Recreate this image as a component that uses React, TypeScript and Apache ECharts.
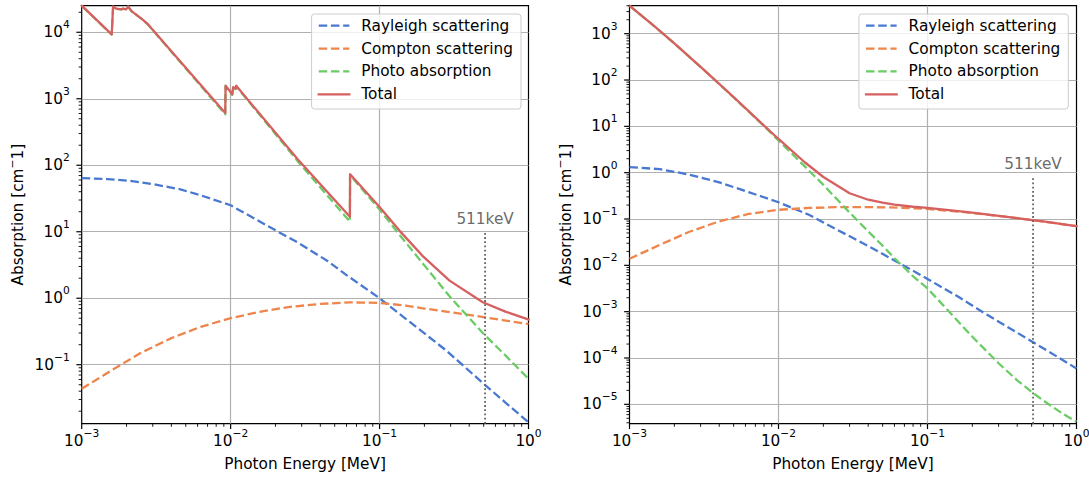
import React, { useEffect, useRef } from 'react';
import * as echarts from 'echarts';

type Pt = [number, number];

// ---------- labels & styling constants ----------
const SERIES_NAMES = ['Rayleigh scattering', 'Compton scattering', 'Photo absorption', 'Total'];
const SERIES_COLORS = ['#4878d0', '#ee854a', '#6acc64', '#d65f5f'];
const X_LABEL = 'Photon Energy [MeV]';
const MARKER_LABEL = '511keV';
const MARKER_ENERGY = 0.511;

const X_RANGE: Pt = [1e-3, 1];
const LEFT_Y_RANGE: Pt = [0.01297, 25100];
const RIGHT_Y_RANGE: Pt = [3.82e-6, 4018];
const LEFT_MARKER_TOP = 10;
const RIGHT_MARKER_TOP = 0.82;

// ---------- left panel data (energy MeV, absorption cm^-1) ----------
const leftRayleigh: Pt[] = [
  [1e-3, 64], [1.5e-3, 62], [2.1e-3, 58.3], [3e-3, 52], [4.6e-3, 43.4], [6.5e-3, 34.5],
  [1e-2, 25], [1.5e-2, 15.1], [2.14e-2, 9.66], [2.84e-2, 6.84], [4.5e-2, 3.6], [6e-2, 2.23],
  [0.1, 1.0], [0.15, 0.49], [0.28, 0.164], [0.5, 0.0517], [0.7, 0.027], [1, 0.0136],
];
const leftCompton: Pt[] = [
  [1e-3, 0.0435], [1.6e-3, 0.0832], [2.5e-3, 0.151], [4e-3, 0.251], [6.3e-3, 0.372],
  [1e-2, 0.501], [1.6e-2, 0.631], [2.5e-2, 0.741], [4e-2, 0.822], [6.3e-2, 0.865],
  [0.1, 0.852], [0.15, 0.775], [0.2, 0.70], [0.28, 0.63], [0.5, 0.52], [0.7, 0.462], [1, 0.41],
];
const leftPhoto: Pt[] = [
  [1e-3, 25036], [1.59e-3, 9239], [1.625e-3, 24240], [1.71e-3, 22540], [1.84e-3, 22040],
  [1.89e-3, 22640], [1.99e-3, 22040], [2.05e-3, 24340], [2.16e-3, 20740], [2.39e-3, 17445],
  [2.52e-3, 15945], [2.79e-3, 13050], [9.2e-3, 584], [9.25e-3, 1550], [1.025e-2, 1145],
  [1.04e-2, 1475], [1.08e-2, 1396], [1.09e-2, 1546], [2.82e-2, 115.3], [6.32e-2, 14.2],
  [6.34e-2, 70.9], [0.1, 21.65], [0.136, 9.0], [0.195, 3.34], [0.295, 1.07], [0.493, 0.30],
  [0.7, 0.138], [1, 0.0615],
];
const leftTotal: Pt[] = [
  [1e-3, 25100], [1.59e-3, 9300], [1.625e-3, 24300], [1.71e-3, 22600], [1.84e-3, 22100],
  [1.89e-3, 22700], [1.99e-3, 22100], [2.05e-3, 24400], [2.16e-3, 20800], [2.39e-3, 17500],
  [2.52e-3, 16000], [2.79e-3, 13100], [9.2e-3, 611], [9.25e-3, 1577], [1.025e-2, 1170],
  [1.04e-2, 1500], [1.08e-2, 1420], [1.09e-2, 1570], [2.82e-2, 123], [6.32e-2, 16.8],
  [6.34e-2, 73.4], [0.1, 23.5], [0.136, 10.4], [0.195, 4.3], [0.295, 1.84], [0.493, 0.87],
  [0.7, 0.63], [1, 0.48],
];

// ---------- right panel data ----------
const rightRayleigh: Pt[] = [
  [1e-3, 1.32], [1.6e-3, 1.19], [2.5e-3, 0.914], [4e-3, 0.618], [6.3e-3, 0.381], [1e-2, 0.2296],
  [1.6e-2, 0.1233], [2.5e-2, 0.0577], [4e-2, 0.0261], [6.3e-2, 0.01167], [0.1, 5.09e-3],
  [0.16, 2.12e-3], [0.25, 8.65e-4], [0.4, 3.52e-4], [0.63, 1.47e-4], [1, 5.95e-5],
];
const rightCompton: Pt[] = [
  [1e-3, 0.0139], [1.6e-3, 0.0277], [2.5e-3, 0.0524], [4e-3, 0.0889], [6.3e-3, 0.1285],
  [1e-2, 0.158], [1.6e-2, 0.1734], [2.5e-2, 0.1799], [4e-2, 0.1807], [6.3e-2, 0.1766],
  [0.1, 0.165], [0.16, 0.145], [0.25, 0.1245], [0.4, 0.1045], [0.63, 0.0861], [1, 0.070],
];
const rightPhoto: Pt[] = [
  [1e-3, 4016], [1.5e-3, 1370], [2e-3, 614], [3e-3, 192], [4e-3, 82], [5e-3, 42], [6e-3, 24.2],
  [8e-3, 10.1], [1e-2, 4.95], [1.5e-2, 1.37], [2e-2, 0.545], [3e-2, 0.138], [4e-2, 0.054],
  [5e-2, 0.0265], [6e-2, 0.0143], [8e-2, 0.0058], [0.1, 3.18e-3], [0.15, 7.8e-4], [0.2, 2.87e-4],
  [0.3, 7.7e-5], [0.4, 3.3e-5], [0.5, 1.86e-5], [0.6, 1.2e-5], [0.8, 6.4e-6], [1, 4.2e-6],
];
const rightTotal: Pt[] = [
  [1e-3, 4018], [1.5e-3, 1371], [2e-3, 615], [3e-3, 193], [4e-3, 82.7], [5e-3, 42.7],
  [6e-3, 24.8], [8e-3, 10.4], [1e-2, 5.34], [1.5e-2, 1.68], [2e-2, 0.807], [3e-2, 0.360],
  [4e-2, 0.261], [5e-2, 0.2245], [6e-2, 0.204], [8e-2, 0.184], [0.1, 0.173], [0.15, 0.151],
  [0.2, 0.137], [0.3, 0.1172], [0.4, 0.105], [0.5, 0.0951], [0.6, 0.0887], [0.8, 0.0775], [1, 0.0701],
];

const FONT = 'DejaVu Sans';
const FS = 15.3;
const FS_SUP = 10.7;

function decadeTicks(min: number, max: number) {
  const major: number[] = [];
  const minor: number[] = [];
  const n0 = Math.floor(Math.log10(min));
  const n1 = Math.ceil(Math.log10(max));
  for (let n = n0; n <= n1; n++) {
    for (let k = 1; k <= 9; k++) {
      const v = k * Math.pow(10, n);
      if (v < min * (1 - 1e-9) || v > max * (1 + 1e-9)) continue;
      (k === 1 ? major : minor).push(v);
    }
  }
  return { major, minor };
}

const fmtPow = (v: number) => {
  const l = Math.log10(v);
  const r = Math.round(l);
  if (Math.abs(l - r) > 1e-6) return '';
  const e = r < 0 ? '\u2212' + -r : String(r);
  return `{b|10}{e|${e}}`;
};

const richPow = {
  b: { fontFamily: FONT, fontSize: FS, color: '#000', lineHeight: 26, verticalAlign: 'middle' },
  e: { fontFamily: FONT, fontSize: FS_SUP, color: '#000', lineHeight: 11, verticalAlign: 'top' },
};

export default function App() {
  const ref = useRef<HTMLDivElement>(null);

  useEffect(() => {
    if (!ref.current) return;
    const chart = echarts.init(ref.current, undefined, { renderer: 'svg' });

    const panels = [
      { yr: LEFT_Y_RANGE, data: [leftRayleigh, leftCompton, leftPhoto, leftTotal], top: LEFT_MARKER_TOP },
      { yr: RIGHT_Y_RANGE, data: [rightRayleigh, rightCompton, rightPhoto, rightTotal], top: RIGHT_MARKER_TOP },
    ];

    const grids = [
      { left: 81.7, top: 5.7, width: 446.8, height: 418 },
      { left: 629.5, top: 5.7, width: 447, height: 418 },
    ].map((g) => ({
      ...g,
      show: true,
      borderColor: '#000',
      borderWidth: 1.2,
      backgroundColor: 'transparent',
      containLabel: false,
      outerBoundsMode: 'none',
    }));

    const splitLine = {
      show: true,
      showMinLine: false,
      showMaxLine: false,
      lineStyle: { color: '#b0b0b0', width: 1.2 },
    };

    const xAxes = panels.map((_, i) => ({
      type: 'log',
      logBase: 10,
      gridIndex: i,
      min: X_RANGE[0],
      max: X_RANGE[1],
      name: X_LABEL,
      nameLocation: 'middle',
      nameGap: 33,
      nameTextStyle: { fontFamily: FONT, fontSize: FS, color: '#000' },
      axisLine: { show: false },
      axisTick: { show: false },
      axisLabel: { formatter: fmtPow, margin: 4.5, rich: richPow, color: '#000' },
      splitLine,
      minorTick: { show: false },
      minorSplitLine: { show: false },
    }));

    const yAxes = panels.map((p, i) => ({
      type: 'log',
      logBase: 10,
      gridIndex: i,
      min: p.yr[0],
      max: p.yr[1],
      name: '{a|Absorption [cm}{s|\u2212}{a|1]}',
      nameLocation: 'middle',
      nameRotate: 90,
      nameGap: 53,
      nameTextStyle: {
        fontFamily: FONT,
        fontSize: FS,
        color: '#000',
        rich: {
          a: { fontFamily: FONT, fontSize: FS, color: '#000', lineHeight: 22, verticalAlign: 'middle' },
          s: { fontFamily: FONT, fontSize: FS_SUP, color: '#000', lineHeight: 11, verticalAlign: 'top' },
        },
      },
      axisLine: { show: false },
      axisTick: { show: false },
      axisLabel: { formatter: fmtPow, margin: 12, rich: richPow, color: '#000' },
      splitLine,
      minorTick: { show: false },
      minorSplitLine: { show: false },
    }));

    const series: any[] = [];
    panels.forEach((p, gi) => {
      p.data.forEach((d, si) => {
        const dashed = si < 3;
        series.push({
          type: 'line',
          name: SERIES_NAMES[si],
          xAxisIndex: gi,
          yAxisIndex: gi,
          data: d,
          symbol: 'none',
          showSymbol: false,
          silent: true,
          clip: true,
          color: SERIES_COLORS[si],
          itemStyle: { color: SERIES_COLORS[si] },
          lineStyle: {
            color: SERIES_COLORS[si],
            width: 2.29,
            type: dashed ? [8.5, 3.7] : 'solid',
            cap: dashed ? 'butt' : 'square',
            join: 'round',
          },
          z: 2,
        });
      });
      // 511 keV dotted marker
      series.push({
        type: 'line',
        xAxisIndex: gi,
        yAxisIndex: gi,
        data: [
          [MARKER_ENERGY, p.yr[0]],
          [MARKER_ENERGY, p.top],
        ],
        symbol: 'none',
        silent: true,
        lineStyle: { color: '#666666', width: 1.8, type: [1.8, 2.4], cap: 'butt' },
        z: 3,
      });
      series.push({
        type: 'scatter',
        xAxisIndex: gi,
        yAxisIndex: gi,
        data: [[MARKER_ENERGY, p.top]],
        symbolSize: 0.1,
        silent: true,
        itemStyle: { color: 'rgba(0,0,0,0)' },
        label: {
          show: true,
          position: 'top',
          distance: 5,
          formatter: MARKER_LABEL,
          fontFamily: FONT,
          fontSize: FS,
          color: '#444',
        },
        z: 3,
      });
      // axis ticks (major + minor) drawn through the axes' scales
      const xt = decadeTicks(X_RANGE[0], X_RANGE[1]);
      const yt = decadeTicks(p.yr[0], p.yr[1]);
      const xTickData = [
        ...xt.major.map((v) => [v, p.yr[0], 1]),
        ...xt.minor.map((v) => [v, p.yr[0], 0]),
      ];
      const yTickData = [
        ...yt.major.map((v) => [X_RANGE[0], v, 1]),
        ...yt.minor.map((v) => [X_RANGE[0], v, 0]),
      ];
      series.push({
        type: 'custom',
        xAxisIndex: gi,
        yAxisIndex: gi,
        data: xTickData,
        silent: true,
        clip: false,
        z: 6,
        renderItem: (params: any, api: any) => {
          const pt = api.coord([api.value(0), api.value(1)]);
          const major = api.value(2) === 1;
          const len = major ? 5.35 : 3.06;
          return {
            type: 'line',
            shape: { x1: pt[0], y1: pt[1], x2: pt[0], y2: pt[1] + len },
            style: { stroke: '#000', lineWidth: major ? 1.2 : 0.9 },
          };
        },
      });
      series.push({
        type: 'custom',
        xAxisIndex: gi,
        yAxisIndex: gi,
        data: yTickData,
        silent: true,
        clip: false,
        z: 6,
        renderItem: (params: any, api: any) => {
          const pt = api.coord([api.value(0), api.value(1)]);
          const major = api.value(2) === 1;
          const len = major ? 5.35 : 3.06;
          return {
            type: 'line',
            shape: { x1: pt[0], y1: pt[1], x2: pt[0] - len, y2: pt[1] },
            style: { stroke: '#000', lineWidth: major ? 1.2 : 0.9 },
          };
        },
      });
    });

    const legendBase = {
      data: SERIES_NAMES,
      orient: 'vertical',
      top: 14,
      itemWidth: 30.6,
      itemHeight: 15,
      itemGap: 7.6,
      padding: [4, 8, 7, 6],
      backgroundColor: 'rgba(255,255,255,0.8)',
      borderColor: '#cccccc',
      borderWidth: 1,
      borderRadius: 3,
      selectedMode: false,
      itemStyle: { opacity: 0, borderWidth: 0 },
      lineStyle: { width: 2.29 },
      textStyle: { fontFamily: FONT, fontSize: FS, color: '#000', lineHeight: 15.3, padding: [0, 0, 0, 7] },
      z: 10,
    };

    chart.setOption({
      animation: false,
      backgroundColor: '#ffffff',
      textStyle: { fontFamily: FONT },
      grid: grids,
      xAxis: xAxes,
      yAxis: yAxes,
      legend: [
        { ...legendBase, right: 568 },
        { ...legendBase, right: 20.7 },
      ],
      series,
    });

    return () => chart.dispose();
  }, []);

  return (
    <div
      ref={ref}
      style={{ position: 'fixed', left: 0, top: 0, width: 1089, height: 477, background: '#fff' }}
    />
  );
}
